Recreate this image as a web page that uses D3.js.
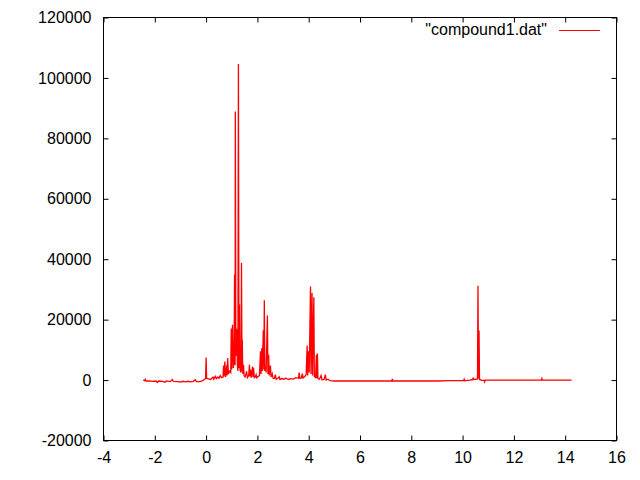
<!DOCTYPE html>
<html>
<head>
<meta charset="utf-8">
<script src="https://d3js.org/d3.v7.min.js"></script>
<style>
  body { margin: 0; background: #fff; }
  svg text { font-family: "Liberation Sans", Arial, sans-serif; font-size: 16px; fill: #000; }
</style>
</head>
<body>
<div id="chart"></div>
<script>
var w = 640;
var h = 480;
var padLeft = 103.5, padRight = 616.5, padTop = 17.5, padBottom = 440.5;

// chemical shift (ppm) and intensity
var ppm = [
  -2.45, -2.40, -2.37, -2.34, -2.20, -2.10, -1.95, -1.90, -1.85, -1.70,
  -1.60, -1.55, -1.40, -1.32, -1.28, -1.10, -1.00, -0.90, -0.80, -0.70,
  -0.60, -0.50, -0.42, -0.38, -0.25, -0.15, -0.06, -0.02, 0.00, 0.02,
  0.10, 0.18, 0.22, 0.27, 0.30, 0.36, 0.40, 0.46, 0.50, 0.55,
  0.60, 0.66, 0.68, 0.70, 0.73, 0.76, 0.81, 0.82, 0.84, 0.87,
  0.92, 0.96, 0.98, 1.00, 1.03, 1.06, 1.09, 1.11, 1.13, 1.14,
  1.16, 1.19, 1.22, 1.24, 1.26, 1.28, 1.30, 1.32, 1.36, 1.38,
  1.40, 1.41, 1.43, 1.46, 1.48, 1.52, 1.58, 1.61, 1.66, 1.69,
  1.71, 1.73, 1.76, 1.81, 1.83, 1.85, 1.88, 1.92, 1.95, 1.98,
  2.03, 2.08, 2.12, 2.14, 2.17, 2.19, 2.23, 2.25, 2.27, 2.29,
  2.32, 2.34, 2.39, 2.41, 2.44, 2.46, 2.51, 2.53, 2.58, 2.61,
  2.66, 2.70, 2.73, 2.80, 2.85, 2.88, 2.95, 3.05, 3.10, 3.20,
  3.30, 3.40, 3.50, 3.60, 3.63, 3.66, 3.72, 3.75, 3.78, 3.85,
  3.90, 3.94, 3.96, 3.99, 4.02, 4.07, 4.09, 4.13, 4.15, 4.20,
  4.22, 4.27, 4.30, 4.32, 4.34, 4.36, 4.42, 4.48, 4.52, 4.60,
  4.65, 4.68, 4.75, 4.83, 5.00, 6.00, 7.00, 7.24, 7.26, 7.28,
  8.00, 9.00, 9.50, 10.00, 10.04, 10.06, 10.08, 10.28, 10.35, 10.39,
  10.41, 10.44, 10.55, 10.58, 10.60, 10.62, 10.64, 10.66, 10.75, 10.84,
  10.86, 10.88, 11.50, 12.00, 12.50, 13.07, 13.09, 13.11, 13.50, 14.25
];
var intensity = [
  0, -200, 300, -300, -300, -400, -300, -800, -300, -400,
  -700, -300, -500, 200, -400, -500, -700, -400, -600, -400,
  -600, -400, 100, -500, -500, -300, 300, 500, 7500, 600,
  400, 200, 600, 1000, 300, 1200, 500, 1000, 600, 1500,
  800, 1000, 4800, 1200, 6100, 1000, 5000, 1500, 7300, 2000,
  3000, 2500, 17100, 3500, 18300, 4000, 6000, 34900, 5000, 88900,
  8000, 17000, 5000, 3000, 104600, 4000, 25000, 3500, 2500, 38800,
  3000, 13400, 2000, 5100, 1500, 1000, 2900, 800, 1500, 5100,
  1200, 3500, 800, 4500, 1000, 4100, 800, 1000, 1800, 700,
  1200, 1500, 9500, 2000, 10500, 3000, 16500, 3500, 26400, 3000,
  4800, 2500, 21400, 2000, 8400, 1500, 4800, 1000, 2100, 600,
  500, 1800, 300, 600, 1100, 200, 500, 300, 700, 200,
  500, 300, 800, 600, 2500, 600, 800, 2100, 700, 1200,
  1800, 11400, 1500, 9500, 2500, 31000, 2000, 28800, 1500, 27400,
  1200, 800, 8400, 700, 8800, 500, 300, 1500, 100, 200,
  1800, 0, 300, -200, -300, -300, -300, -300, 400, -300,
  -300, -300, -200, -200, -200, 300, -200, 0, 100, 100,
  600, 200, 300, 300, 31200, 500, 16400, 200, -100, -100,
  -600, 0, 0, 0, 0, 0, 500, 0, 0, 0
];

var xTicks = [-4, -2, 0, 2, 4, 6, 8, 10, 12, 14, 16];
var yTicks = [-20000, 0, 20000, 40000, 60000, 80000, 100000, 120000];
var seriesName = '"compound1.dat"';

var svg = d3.select('#chart')
            .append('svg')
            .attr('width', w)
            .attr('height', h);

var xScale = d3.scaleLinear()
               .domain([-4, 16])
               .range([padLeft, padRight]);

var yScale = d3.scaleLinear()
               .domain([-20000, 120000])
               .range([padBottom, padTop]);

var fmt = d => String(d);

// bottom axis with labels, ticks pointing in
svg.append('g')
  .attr('transform', `translate(0, ${padBottom})`)
  .call(d3.axisBottom(xScale).tickValues(xTicks).tickSize(-5).tickPadding(11).tickFormat(fmt))
  .call(g => g.select('.domain').remove());

// top mirror ticks
svg.append('g')
  .attr('transform', `translate(0, ${padTop})`)
  .call(d3.axisTop(xScale).tickValues(xTicks).tickSize(-5).tickFormat(''))
  .call(g => g.select('.domain').remove());

// left axis with labels
svg.append('g')
  .attr('transform', `translate(${padLeft}, 0)`)
  .call(d3.axisLeft(yScale).tickValues(yTicks).tickSize(-5).tickPadding(12).tickFormat(fmt))
  .call(g => g.select('.domain').remove());

// right mirror ticks
svg.append('g')
  .attr('transform', `translate(${padRight}, 0)`)
  .call(d3.axisRight(yScale).tickValues(yTicks).tickSize(-5).tickFormat(''))
  .call(g => g.select('.domain').remove());

svg.selectAll('g').attr('font-size', null).attr('font-family', null);

// border box
svg.append('rect')
  .attr('x', padLeft)
  .attr('y', padTop)
  .attr('width', padRight - padLeft)
  .attr('height', padBottom - padTop)
  .attr('fill', 'none')
  .attr('stroke', '#000')
  .attr('stroke-width', 1);

var data = ppm.map((p, i) => ({x: p, y: intensity[i]}));

var line = d3.line()
             .x(d => xScale(d.x))
             .y(d => yScale(d.y));

svg.append('path')
  .datum(data)
  .attr('d', line)
  .attr('fill', 'none')
  .attr('stroke', '#ff0000')
  .attr('stroke-width', 1.3)
  .attr('stroke-linejoin', 'miter');

// key
svg.append('text')
  .attr('x', 547)
  .attr('y', 35)
  .attr('text-anchor', 'end')
  .text(seriesName);

svg.append('line')
  .attr('x1', 559)
  .attr('x2', 600)
  .attr('y1', 30.5)
  .attr('y2', 30.5)
  .attr('stroke', '#ff0000')
  .attr('stroke-width', 1);
</script>
</body>
</html>
